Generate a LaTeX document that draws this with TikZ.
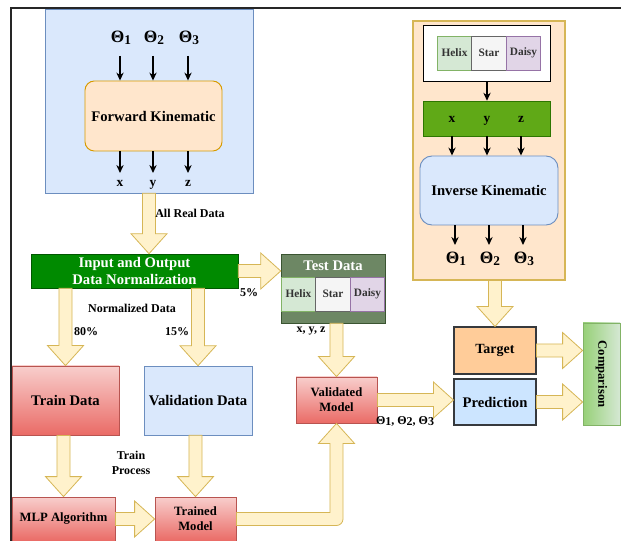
\documentclass[tikz,border=0pt]{standalone}
\usepackage{fontspec}
\setmainfont{Liberation Serif}
\usetikzlibrary{calc,arrows.meta}

\definecolor{lblue}{HTML}{DAE8FC}
\definecolor{dblue}{HTML}{6C8EBF}
\definecolor{lorange}{HTML}{FFE6CC}
\definecolor{dorange}{HTML}{D79B00}
\definecolor{dgold}{HTML}{D6B656}
\definecolor{lyellow}{HTML}{FFF2CC}
\definecolor{normgreen}{HTML}{008A00}
\definecolor{normborder}{HTML}{005700}
\definecolor{testgreen}{HTML}{6D8764}
\definecolor{testborder}{HTML}{3A5431}
\definecolor{barGreen}{HTML}{60A917}
\definecolor{barborder}{HTML}{2D7600}
\definecolor{cellgreen}{HTML}{D5E8D4}
\definecolor{cellgreenb}{HTML}{82B366}
\definecolor{cellgray}{HTML}{F5F5F5}
\definecolor{cellgrayb}{HTML}{666666}
\definecolor{cellpurple}{HTML}{E1D5E7}
\definecolor{cellpurpleb}{HTML}{9673A6}
\definecolor{redtop}{HTML}{F8CECC}
\definecolor{redbot}{HTML}{EA6B66}
\definecolor{redborder}{HTML}{B85450}
\definecolor{tgtorange}{HTML}{FFCC99}
\definecolor{predblue}{HTML}{CCE5FF}
\definecolor{darkgray}{HTML}{36393D}
\definecolor{cmpgreen}{HTML}{97D077}

\newcommand{\px}{0.75pt}
\newcommand{\thet}[1]{Θ\raisebox{-0.3ex}{\fontsize{10}{10}\selectfont #1}}

\tikzset{
  box/.style 2 args={rectangle, inner sep=0pt, minimum width=#1*\px, minimum height=#2*\px,
    align=center, font=\fontsize{11}{12.75}\selectfont\bfseries},
  redbox/.style={top color=redtop, bottom color=redbot, draw=redborder, line width=0.6pt},
  cellbox/.style={rectangle, inner sep=0pt, minimum width=34.5*\px, minimum height=34*\px,
    font=\fontsize{8.5}{9}\selectfont\bfseries, text=black!80, line width=0.6pt},
  lbl/.style={inner sep=0pt, align=center, font=\fontsize{9}{11.25}\selectfont\bfseries},
  theta/.style={inner sep=0pt, font=\fontsize{13}{13}\selectfont\bfseries},
  coord/.style={inner sep=0pt, anchor=base, font=\fontsize{10}{10}\selectfont\bfseries},
  arr/.style={line width=0.9pt, -{Stealth[length=6pt,width=5.5pt]}},
  fat/.style={fill=lyellow, draw=dgold, line width=0.6pt}
}

% fat block arrows (tip at #2)
\newcommand{\fatdown}[2]{\draw[fat] let \p1=#1, \p2=#2 in
  (\x1-4.9pt,\y1) -- (\x1-4.9pt,\y2+15pt) -- (\x1-13.5pt,\y2+15pt) -- (\x1,\y2)
  -- (\x1+13.5pt,\y2+15pt) -- (\x1+4.9pt,\y2+15pt) -- (\x1+4.9pt,\y1) -- cycle;}
\newcommand{\fatright}[2]{\draw[fat] let \p1=#1, \p2=#2 in
  (\x1,\y1+4.9pt) -- (\x2-15pt,\y1+4.9pt) -- (\x2-15pt,\y1+13.5pt) -- (\x2,\y1)
  -- (\x2-15pt,\y1-13.5pt) -- (\x2-15pt,\y1-4.9pt) -- (\x1,\y1-4.9pt) -- cycle;}

\begin{document}
\begin{tikzpicture}[x=0.75pt, y=-0.75pt]
  \useasboundingbox (0,0) rectangle (621,541);
  \draw[line width=1.5pt, black!85] (10.5,541) -- (10.5,8) -- (621,8);

  % forward kinematic part
  \node[box={208}{184}, fill=lblue, draw=dblue] (fkpanel) at (149,101) {};
  \node[theta] (fth1) at (121,38) {\thet{1}};
  \node[theta] (fth2) at (154,38) {\thet{2}};
  \node[theta] (fth3) at (189,38) {\thet{3}};
  \node[box={137}{70}, fill=lorange, draw=dorange, rounded corners=7pt, line width=0.7pt] (fk) at (153.5,116) {Forward Kinematic};
  \node[coord] (fx) at (120,187) {x};
  \node[coord] (fy) at (153,187) {y};
  \node[coord] (fz) at (188,187) {z};
  \coordinate (fkin) at (0,56);
  \coordinate (fkout) at (0,173);
  \draw[arr] (fkin -| fx) -- (fk.north -| fx);
  \draw[arr] (fkin -| fy) -- (fk.north -| fy);
  \draw[arr] (fkin -| fz) -- (fk.north -| fz);
  \draw[arr] (fk.south -| fx) -- (fkout -| fx);
  \draw[arr] (fk.south -| fy) -- (fkout -| fy);
  \draw[arr] (fk.south -| fz) -- (fkout -| fz);

  % normalization and split
  \node[box={207}{34}, fill=normgreen, draw=normborder, text=white] (norm) at (134.5,271) {Input and Output\\Data Normalization};
  \fatdown{(fkpanel.south)}{(fkpanel.south |- norm.north)}
  \node[lbl, anchor=west] (allreal) at (155,213) {All Real Data};

  \node[box={104}{69}, fill=testgreen, draw=testborder] (test) at (333,288.5) {};
  \node[box={104}{23}, text=white] (testlbl) at (333,265.5) {Test Data};
  \node[cellbox, fill=cellgreen, draw=cellgreenb] (thelix) at (298.5,294) {Helix};
  \node[cellbox, fill=cellgray, draw=cellgrayb] (tstar) at (333,294) {Star};
  \node[cellbox, fill=cellpurple, draw=cellpurpleb] (tdaisy) at (367.5,294) {Daisy};
  \fatright{(norm.east)}{(test.west)}
  \node[lbl] (five) at (249,293) {5\%};
  \node[lbl] (xyzlbl) at (311,331) {x, y, z};

  \node[box={107}{69}, redbox] (train) at (65.5,400.5) {Train Data};
  \node[box={108}{69}, fill=lblue, draw=dblue] (valid) at (198,400.5) {Validation Data};
  \fatdown{(train.north |- norm.south)}{(train.north)}
  \fatdown{(valid.north |- norm.south)}{(valid.north)}
  \node[lbl] (normlbl) at (132,308) {Normalized Data};
  \node[lbl] (eighty) at (86,332) {80\%};
  \node[lbl] (fifteen) at (177,332) {15\%};

  % training
  \node[box={103}{44}, redbox, font=\fontsize{9.5}{11.25}\selectfont\bfseries] (mlp) at (63.5,519) {MLP Algorithm};
  \node[box={81}{44}, redbox, font=\fontsize{9.5}{11.25}\selectfont\bfseries] (trained) at (195.5,519) {Trained\\Model};
  \fatdown{(mlp.north |- train.south)}{(mlp.north)}
  \fatdown{(trained.north |- valid.south)}{(trained.north)}
  \fatright{(mlp.east)}{(trained.west)}
  \node[lbl] (trainproc) at (131,463) {Train\\Process};

  % validation
  \node[box={81}{46}, redbox, font=\fontsize{9.5}{11.25}\selectfont\bfseries] (validated) at (336.5,400) {Validated\\Model};
  \fatdown{(validated.north |- test.south)}{(validated.north)}
  \draw[fat] let \p1=(trained.east), \p2=(validated.south) in
    (\x1,\y1-4.9pt) [rounded corners=5pt] -- (\x2+4.9pt,\y1-4.9pt) [sharp corners] -- (\x2+4.9pt,\y2-15pt)
    -- (\x2+13.5pt,\y2-15pt) -- (\x2,\y2) -- (\x2-13.5pt,\y2-15pt) -- (\x2-4.9pt,\y2-15pt)
    -- (\x2-4.9pt,\y1+4.9pt) -- (\x1,\y1+4.9pt) -- cycle;

  % inverse kinematic part
  \node[box={152}{259}, fill=lorange, draw=dgold, line width=0.8pt] (ikpanel) at (489,150.5) {};
  \node[box={127}{56}, fill=white, draw=black, line width=0.7pt] (inbox) at (486.5,53) {};
  \node[cellbox, fill=cellgreen, draw=cellgreenb] (ihelix) at (454.5,53) {Helix};
  \node[cellbox, fill=cellgray, draw=cellgrayb] (istar) at (489,53) {Star};
  \node[cellbox, fill=cellpurple, draw=cellpurpleb] (idaisy) at (523.5,53) {Daisy};
  \node[box={127}{35}, fill=barGreen, draw=barborder] (xyzbar) at (486.5,118.5) {};
  \node[coord] (ix) at (452,123) {x};
  \node[coord] (iy) at (487,123) {y};
  \node[coord] (iz) at (521,123) {z};
  \draw[arr] (inbox.south -| iy) -- (xyzbar.north -| iy);
  \node[box={138}{69}, fill=lblue, draw=dblue, rounded corners=9pt, line width=0.7pt] (ik) at (489,190.5) {Inverse Kinematic};
  \draw[arr] (xyzbar.south -| ix) -- (ik.north -| ix);
  \draw[arr] (xyzbar.south -| iy) -- (ik.north -| iy);
  \draw[arr] (xyzbar.south -| iz) -- (ik.north -| iz);
  \node[theta] (ith1) at (456,259) {\thet{1}};
  \node[theta] (ith2) at (490,259) {\thet{2}};
  \node[theta] (ith3) at (524,259) {\thet{3}};
  \coordinate (ikout) at (0,245);
  \draw[arr] (ik.south -| 455,0) -- (ikout -| 455,0);
  \draw[arr] (ik.south -| 489,0) -- (ikout -| 489,0);
  \draw[arr] (ik.south -| 523,0) -- (ikout -| 523,0);

  % comparison
  \node[box={82}{47}, fill=tgtorange, draw=darkgray, line width=0.8pt, font=\fontsize{10.5}{12}\selectfont\bfseries] (target) at (495,350.5) {Target};
  \node[box={82}{46}, fill=predblue, draw=darkgray, line width=0.8pt] (pred) at (495,402) {Prediction};
  \node[box={37}{102}, left color=cmpgreen, right color=cellgreen, draw=cellgreenb, line width=0.6pt] (cmp) at (601.5,374) {};
  \node[rotate=-90, inner sep=0pt, font=\fontsize{9.5}{11}\selectfont\bfseries] (cmplbl) at (cmp) {Comparison};
  \fatdown{(target.north |- ikpanel.south)}{(target.north)}
  \fatright{(target.east)}{(target.east -| cmp.west)}
  \fatright{(pred.east)}{(pred.east -| cmp.west)}
  \fatright{(validated.east)}{(validated.east -| pred.west)}
  \node[lbl] (thlbl) at (405,421) {Θ\raisebox{-0.3ex}{1}, Θ\raisebox{-0.3ex}{2}, Θ\raisebox{-0.3ex}{3}};
\end{tikzpicture}
\end{document}
